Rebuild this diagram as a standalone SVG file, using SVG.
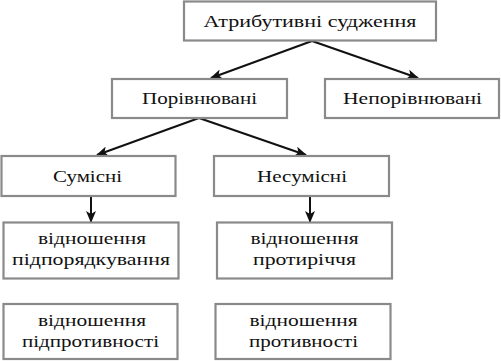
<svg xmlns="http://www.w3.org/2000/svg" width="501" height="361" viewBox="0 0 501 361">
<defs>
<style>
.box{fill:#fff;stroke:#8a8a8a;stroke-width:2.2}
.t{font-family:"Liberation Serif","DejaVu Serif",serif;font-size:17px;fill:#111;text-anchor:middle}
.s{font-size:16px}
.c{stroke:#111;stroke-width:2;fill:none}
</style>
<marker id="ah" viewBox="0 0 12 10" refX="11" refY="5" markerWidth="12" markerHeight="10" markerUnits="userSpaceOnUse" orient="auto">
<path d="M0,0 L12,5 L0,10 L3,5 Z" fill="#111"/>
</marker>
</defs>
<rect width="501" height="361" fill="#fff"/>
<g id="connectors">
<line class="c" x1="312" y1="41" x2="211" y2="78" marker-end="url(#ah)"/>
<line class="c" x1="312" y1="41" x2="418" y2="78" marker-end="url(#ah)"/>
<line class="c" x1="199" y1="118" x2="97" y2="155" marker-end="url(#ah)"/>
<line class="c" x1="199" y1="118" x2="306" y2="155" marker-end="url(#ah)"/>
<line class="c" x1="91" y1="196" x2="91" y2="222" marker-end="url(#ah)"/>
<line class="c" x1="310" y1="196" x2="310" y2="222" marker-end="url(#ah)"/>
</g>
<g id="n1"><rect class="box" x="184" y="1.5" width="252" height="39"/><text class="t" x="310" y="27" textLength="213" lengthAdjust="spacingAndGlyphs">Атрибутивні судження</text></g>
<g id="n2"><rect class="box" x="112" y="79" width="175" height="39"/><text class="t" x="199.5" y="104" textLength="115" lengthAdjust="spacingAndGlyphs">Порівнювані</text></g>
<g id="n3"><rect class="box" x="325" y="79" width="174" height="39"/><text class="t" x="412.5" y="104" textLength="139" lengthAdjust="spacingAndGlyphs">Непорівнювані</text></g>
<g id="n4"><rect class="box" x="1.5" y="156" width="174" height="40"/><text class="t" x="87.5" y="182" textLength="69" lengthAdjust="spacingAndGlyphs">Сумісні</text></g>
<g id="n5"><rect class="box" x="214" y="156" width="175" height="40"/><text class="t" x="302" y="182" textLength="90" lengthAdjust="spacingAndGlyphs">Несумісні</text></g>
<g id="n6"><rect class="box" x="3.5" y="222.5" width="175" height="56"/><text class="t s" x="92" y="244" textLength="108" lengthAdjust="spacingAndGlyphs">відношення</text><text class="t s" x="91" y="265" textLength="158" lengthAdjust="spacingAndGlyphs">підпорядкування</text></g>
<g id="n7"><rect class="box" x="217" y="222.5" width="175" height="56"/><text class="t s" x="304.5" y="244" textLength="108" lengthAdjust="spacingAndGlyphs">відношення</text><text class="t s" x="304.5" y="265" textLength="103" lengthAdjust="spacingAndGlyphs">протиріччя</text></g>
<g id="n8"><rect class="box" x="3.5" y="304" width="174" height="55"/><text class="t s" x="92" y="326" textLength="108" lengthAdjust="spacingAndGlyphs">відношення</text><text class="t s" x="90.5" y="347" textLength="137" lengthAdjust="spacingAndGlyphs">підпротивності</text></g>
<g id="n9"><rect class="box" x="215.5" y="304" width="175" height="55"/><text class="t s" x="303.5" y="326" textLength="108" lengthAdjust="spacingAndGlyphs">відношення</text><text class="t s" x="303.5" y="347" textLength="109" lengthAdjust="spacingAndGlyphs">противності</text></g>
</svg>
